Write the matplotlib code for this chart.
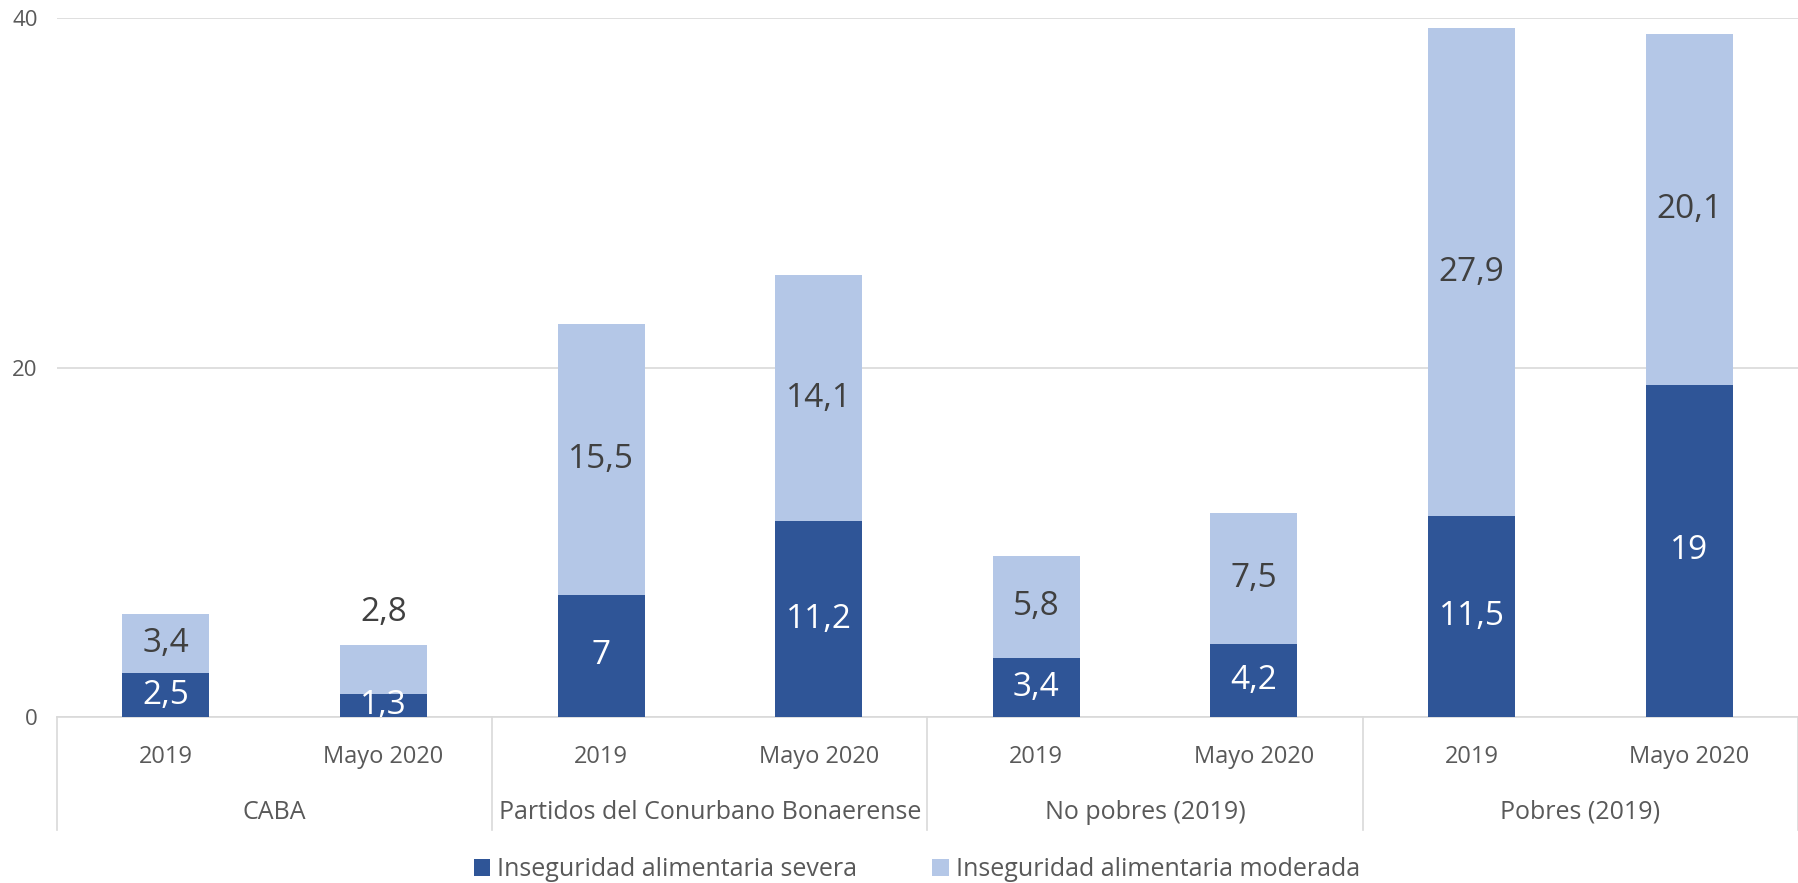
import numpy as np
import matplotlib.pyplot as plt
from matplotlib.lines import Line2D

plt.rcParams['font.family'] = ['Open Sans', 'DejaVu Sans']

groups = ['CABA', 'Partidos del Conurbano Bonaerense', 'No pobres (2019)', 'Pobres (2019)']
periods = ['2019', 'Mayo 2020']
severa = [2.5, 1.3, 7, 11.2, 3.4, 4.2, 11.5, 19]
moderada = [3.4, 2.8, 15.5, 14.1, 5.8, 7.5, 27.9, 20.1]

c_sev = '#2F5597'
c_mod = '#B4C7E7'
txt = '#595959'

def fmt(v):
    return ('%g' % v).replace('.', ',')

fig = plt.figure(figsize=(17.98, 8.83), dpi=100)
ax = fig.add_axes([0.0317, 0.188, 0.9683, 0.7916])

x = np.arange(len(severa))
b1 = ax.bar(x, severa, width=0.4, color=c_sev, label='Inseguridad alimentaria severa', zorder=3)
b2 = ax.bar(x, moderada, width=0.4, bottom=severa, color=c_mod,
            label='Inseguridad alimentaria moderada', zorder=3)

# etiquetas de datos
for i in range(len(x)):
    ax.text(x[i], severa[i] / 2, fmt(severa[i]), ha='center', va='center',
            color='white', fontsize=24, zorder=4, clip_on=True)
    if moderada[i] < 3:
        ax.text(x[i], severa[i] + moderada[i] + 1.9, fmt(moderada[i]), ha='center',
                va='center', color='#404040', fontsize=24, zorder=4)
    else:
        ax.text(x[i], severa[i] + moderada[i] / 2, fmt(moderada[i]), ha='center',
                va='center', color='#404040', fontsize=24, zorder=4)

ax.set_xlim(-0.5, len(x) - 0.5)
ax.set_ylim(0, 40)
ax.set_yticks([0, 20, 40])
ax.tick_params(axis='y', length=0, pad=14, labelsize=16, labelcolor=txt)
ax.yaxis.grid(True, color='#D9D9D9', linewidth=1.2, zorder=0)
for s in ['top', 'right', 'left']:
    ax.spines[s].set_visible(False)
ax.spines['bottom'].set_color('#D9D9D9')
ax.spines['bottom'].set_linewidth(1.2)

ax.set_xticks(x)
ax.set_xticklabels(periods * len(groups))
ax.tick_params(axis='x', length=0, pad=20, labelsize=17, labelcolor=txt)

# segundo nivel del eje x
trans = ax.get_xaxis_transform()
for g, name in enumerate(groups):
    ax.text(2 * g + 0.5, -0.136, name, transform=trans, ha='center', va='center',
            fontsize=18, color=txt)
for b in np.arange(-0.5, len(x), 2):
    ax.add_line(Line2D([b, b], [0, -0.162], transform=trans, color='#D9D9D9',
                       linewidth=1.2, clip_on=False))

fig.legend(handles=[b1, b2], loc='center', bbox_to_anchor=(0.51, 0.015), ncol=2,
           frameon=False, fontsize=18, labelcolor=txt, handlelength=0.65,
           handleheight=0.65, handletextpad=0.3, columnspacing=3)

fig.savefig('out.png', dpi=100)
